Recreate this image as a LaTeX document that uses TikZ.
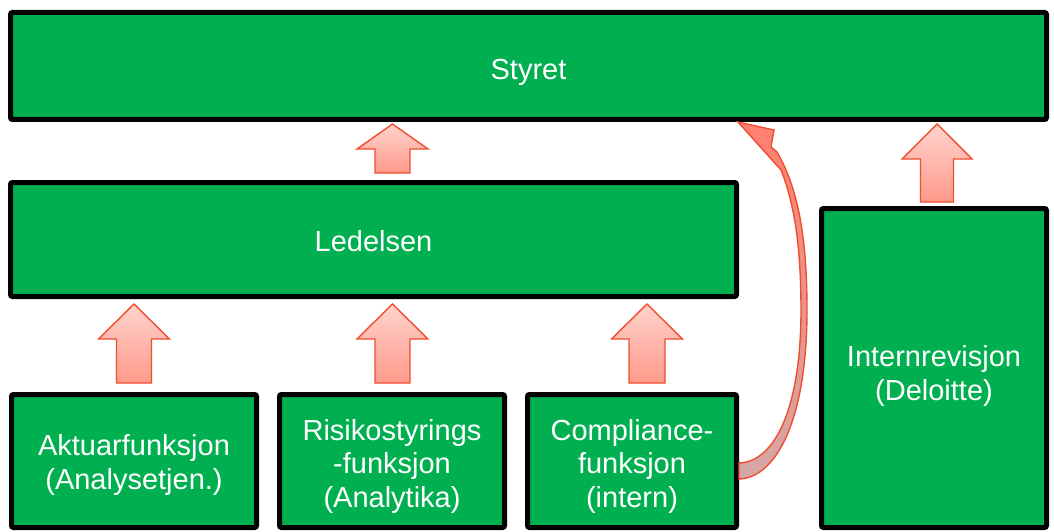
\documentclass[tikz,border=0pt]{standalone}
\usepackage{fontspec}
\setmainfont{Liberation Sans}
\definecolor{boxgreen}{HTML}{00B050}
\definecolor{arrline}{HTML}{F04E2E}
\definecolor{arrtop}{HTML}{FFD3CC}
\definecolor{arrbot}{HTML}{FF9A8B}
\definecolor{curvtop}{HTML}{FF8070}
\definecolor{curvbot}{HTML}{D3A8A7}
\tikzset{
  box/.style={draw=black, line width=5pt, fill=boxgreen, rounded corners=2pt, inner sep=0pt},
  boxtext/.style={text=white, align=center, font=\fontsize{29}{33.5}\selectfont, inner sep=0pt},
  blockarrow/.style={draw=arrline, line width=1.4pt, top color=arrtop, bottom color=arrbot, line join=miter},
  curvarrow/.style={draw=arrline, line width=1.4pt, top color=curvtop, bottom color=curvbot, line join=miter},
}
\newcommand\blockup[6]{%
  \path[blockarrow] (#1,#2) -- (#1+#5,#3) -- (#1+#6,#3) -- (#1+#6,#4)
    -- (#1-#6,#4) -- (#1-#6,#3) -- (#1-#5,#3) -- cycle;}
\begin{document}
\begin{tikzpicture}[x=1pt,y=-1pt]
\useasboundingbox (0,0) rectangle (1054,532);
% boxes
\node[box, minimum width=1036pt, minimum height=107pt] (styret) at (528.5,66) {};
\node[box, minimum width=726pt, minimum height=114pt] (led) at (373.5,239.5) {};
\node[box, minimum width=245pt, minimum height=133pt] (akt) at (134,461) {};
\node[box, minimum width=225pt, minimum height=133pt] (risk) at (392,461) {};
\node[box, minimum width=209pt, minimum height=133pt] (comp) at (632,461) {};
\node[box, minimum width=225pt, minimum height=319pt] (intern) at (934,368) {};
% texts
\node[boxtext] (tstyret) at ([yshift=-6pt]styret.center) {Styret};
\node[boxtext] (tled) at ([yshift=-2pt]led.center) {Ledelsen};
\node[boxtext] (takt) at ([yshift=-4pt]akt.center) {Aktuarfunksjon\\(Analysetjen.)};
\node[boxtext] (trisk) at ([yshift=-5pt]risk.center) {Risikostyrings\\-funksjon\\(Analytika)};
\node[boxtext] (tcomp) at ([yshift=-5pt]comp.center) {Compliance-\\funksjon\\(intern)};
\node[boxtext] (tintern) at ([yshift=-8pt]intern.center) {Internrevisjon\\(Deloitte)};
% block arrows
\blockup{392.5}{124}{149}{173}{35.5}{17.5}
\blockup{937}{124}{159}{202}{35}{16.5}
\blockup{134}{304}{339}{383}{35.5}{17.5}
\blockup{392.5}{304}{339}{383}{35.5}{17.5}
\blockup{647}{304}{339}{383}{35.5}{18}
% curved arrow from compliance to styret
\path[curvarrow] (738,122) -- (774,130) -- (771,147) -- (777,152)
  .. controls (796,185) and (807,230) .. (807,310)
  .. controls (807,420) and (776,478) .. (739,479)
  -- (739,463)
  .. controls (774,462) and (801,410) .. (801,310)
  .. controls (801,250) and (795,205) .. (781,170) -- cycle;
\end{tikzpicture}
\end{document}
